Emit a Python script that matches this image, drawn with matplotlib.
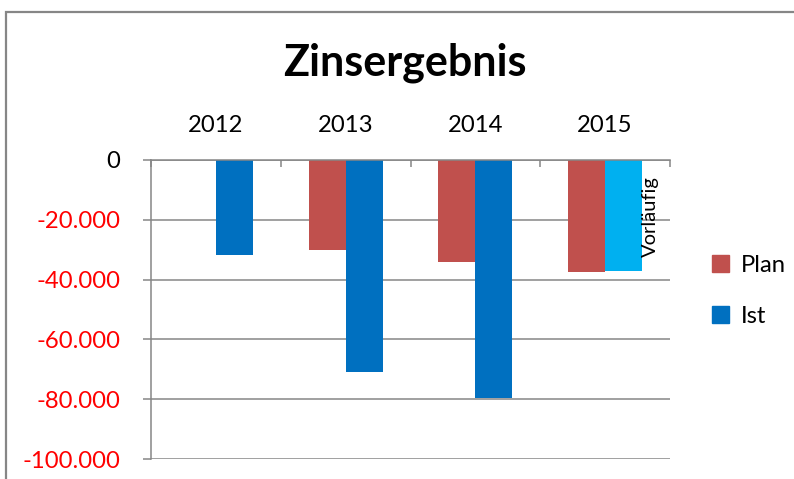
import matplotlib.pyplot as plt
import numpy as np
from matplotlib.patches import Patch, Rectangle
from matplotlib.ticker import FuncFormatter, FixedLocator

plt.rcParams['font.family'] = ['Lato', 'DejaVu Sans']

years = ['2012', '2013', '2014', '2015']
plan = [np.nan, -30000, -34000, -37400]
ist = [-31800, -71000, -79600, -37000]
ist_colors = ['#0070C0', '#0070C0', '#0070C0', '#00B0F0']
plan_color = '#C0504D'
grid_color = '#868686'

W, H = 794, 479
fig = plt.figure(figsize=(W / 100, H / 100), dpi=100)
ax = fig.add_axes([151 / W, (H - 459) / H, (670 - 151) / W, (459 - 160) / H])

x = np.arange(len(years))
w = 0.285
ax.bar(x - w / 2, plan, w, color=plan_color, zorder=3)
ax.bar(x + w / 2, ist, w, color=ist_colors, zorder=3)

ax.set_xlim(-0.5, 3.5)
ax.set_ylim(-100000, 0)

# y axis
ax.set_yticks(np.arange(-100000, 1, 20000))
ax.yaxis.set_major_formatter(FuncFormatter(lambda v, p: f'{int(v):,}'.replace(',', '.')))
ax.tick_params(axis='y', direction='out', length=6, width=1.1, color=grid_color,
               pad=16, labelsize=17.2)
for lab, v in zip(ax.get_yticklabels(), ax.get_yticks()):
    lab.set_color('black' if v == 0 else 'red')
ax.yaxis.grid(True, color=grid_color, linewidth=1.1, zorder=1)

# x axis on top
ax.xaxis.tick_top()
ax.set_xticks(x)
ax.set_xticklabels(years)
ax.xaxis.set_minor_locator(FixedLocator(np.arange(-0.5, 3.6, 1)))
ax.tick_params(axis='x', which='major', length=0, pad=17, labelsize=17.2)
ax.tick_params(axis='x', which='minor', direction='in', length=5, width=1.1,
               color=grid_color, top=True, bottom=False)

for s in ['right', 'bottom']:
    ax.spines[s].set_visible(False)
for s in ['top', 'left']:
    ax.spines[s].set_color(grid_color)
    ax.spines[s].set_linewidth(1.1)
    ax.spines[s].set_zorder(4)

ax.text(3.35, -5500, 'Vorläufig', rotation=90, ha='center', va='top', fontsize=14.5, zorder=5)

fig.text(405 / W, 1 - 63 / H, 'Zinsergebnis', ha='center', va='center',
         fontsize=31, fontweight='bold')

handles = [Patch(color=plan_color), Patch(color='#0070C0')]
fig.legend(handles, ['Plan', 'Ist'], loc='center left',
           bbox_to_anchor=(690 / W, 1 - 291 / H), frameon=False,
           fontsize=17.2, handlelength=0.75, handleheight=0.75,
           handletextpad=0.5, labelspacing=1.25)

# chart border (cut off at right and bottom)
fig.patches.append(Rectangle((5.5 / W, -0.1), 1.2, 1 - 11.5 / H + 0.1,
                             transform=fig.transFigure, fill=False,
                             edgecolor=grid_color, linewidth=1.6))

fig.savefig('out.png', dpi=100)
